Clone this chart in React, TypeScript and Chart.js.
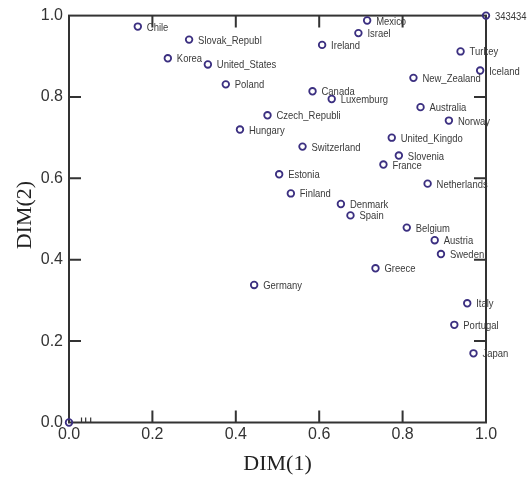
import React, { useEffect, useRef } from "react";
import { Chart, registerables } from "chart.js";

Chart.register(...registerables);

const names = ["Chile", "Slovak_Republ", "Korea", "United_States", "Poland", "Hungary", "Mexico", "Israel", "Ireland", "343434", "Turkey", "Iceland", "New_Zealand", "Canada", "Luxemburg", "Czech_Republi", "Australia", "Norway", "United_Kingdo", "Switzerland", "Slovenia", "France", "Estonia", "Netherlands", "Finland", "Denmark", "Spain", "Belgium", "Austria", "Sweden", "Greece", "Germany", "Italy", "Portugal", "Japan", ""];
const dim1 = [0.165, 0.288, 0.237, 0.333, 0.376, 0.410, 0.715, 0.694, 0.607, 1.0, 0.939, 0.986, 0.826, 0.584, 0.630, 0.476, 0.843, 0.911, 0.774, 0.560, 0.791, 0.754, 0.504, 0.860, 0.532, 0.652, 0.675, 0.810, 0.877, 0.892, 0.735, 0.444, 0.955, 0.924, 0.970, 0.0];
const dim2 = [0.973, 0.941, 0.895, 0.880, 0.831, 0.720, 0.988, 0.957, 0.928, 1.0, 0.912, 0.865, 0.847, 0.814, 0.795, 0.755, 0.775, 0.742, 0.700, 0.678, 0.656, 0.634, 0.610, 0.587, 0.563, 0.537, 0.509, 0.479, 0.448, 0.414, 0.379, 0.338, 0.293, 0.240, 0.170, 0.0];
const majorTicks = [0.2, 0.4, 0.6, 0.8];
const minorTicksX = [0.03, 0.04, 0.052];
const xTitle = "DIM(1)";
const yTitle = "DIM(2)";

export default function App() {
  const ref = useRef<HTMLCanvasElement>(null);
  useEffect(() => {
    document.body.style.margin = "0";
    const canvas = ref.current!;
    const framePlugin = {
      id: "frame",
      beforeDatasetsDraw(chart: any) {
        const { ctx, chartArea: a, scales } = chart;
        const xs = scales.x, ys = scales.y;
        ctx.save();
        ctx.strokeStyle = "#333";
        ctx.lineWidth = 2;
        ctx.strokeRect(a.left, a.top, a.right - a.left, a.bottom - a.top);
        const L = 12;
        ctx.beginPath();
        for (const t of majorTicks) {
          const px = xs.getPixelForValue(t);
          ctx.moveTo(px, a.bottom); ctx.lineTo(px, a.bottom - L);
          ctx.moveTo(px, a.top); ctx.lineTo(px, a.top + L);
          const py = ys.getPixelForValue(t);
          ctx.moveTo(a.left, py); ctx.lineTo(a.left + L, py);
          ctx.moveTo(a.right, py); ctx.lineTo(a.right - L, py);
        }
        ctx.stroke();
        ctx.lineWidth = 1.2;
        ctx.beginPath();
        for (const t of minorTicksX) {
          const px = xs.getPixelForValue(t);
          ctx.moveTo(px, a.bottom); ctx.lineTo(px, a.bottom - 5);
        }
        ctx.stroke();
        ctx.restore();
      },
      afterDatasetsDraw(chart: any) {
        const { ctx, chartArea: a } = chart;
        const meta = chart.getDatasetMeta(0);
        ctx.save();
        ctx.fillStyle = "#3a3a3a";
        ctx.font = '11px "Liberation Sans", Arial, sans-serif';
        ctx.textBaseline = "middle";
        ctx.textAlign = "left";
        meta.data.forEach((el: any, i: number) => {
          const label = names[i];
          if (!label) return;
          ctx.save();
          ctx.translate(el.x + 9, el.y + 1);
          ctx.scale(0.86, 1);
          ctx.fillText(label, 0, 0);
          ctx.restore();
        });
        ctx.fillStyle = "#222";
        ctx.font = '22px "Liberation Serif", "Times New Roman", serif';
        ctx.textAlign = "center";
        ctx.fillText(xTitle, (a.left + a.right) / 2, 464);
        ctx.translate(25, (a.top + a.bottom) / 2 - 4);
        ctx.rotate(-Math.PI / 2);
        ctx.fillText(yTitle, 0, 0);
        ctx.restore();
      },
    };
    const tickFont = { family: '"Liberation Sans", Arial, sans-serif', size: 16 };
    const chart = new Chart(canvas, {
      type: "scatter",
      data: {
        datasets: [
          {
            data: dim1.map((x, i) => ({ x, y: dim2[i] })),
            pointStyle: "circle",
            pointRadius: 3.3,
            pointBorderWidth: 1.8,
            borderColor: "#3b2f80",
            backgroundColor: "rgba(0,0,0,0)",
            clip: false as any,
          },
        ],
      },
      options: {
        responsive: false,
        animation: false,
        devicePixelRatio: 1,
        layout: { autoPadding: false, padding: { left: 0, top: 14, right: 44, bottom: 0 } },
        plugins: { legend: { display: false }, tooltip: { enabled: false } },
        scales: {
          x: {
            type: "linear",
            min: 0,
            max: 1,
            grid: { display: false, drawTicks: false },
            border: { display: false },
            ticks: { stepSize: 0.2, color: "#333", font: tickFont, padding: 2, callback: (v: any) => Number(v).toFixed(1) },
            afterFit: (s: any) => { s.height = 58.5; },
          },
          y: {
            type: "linear",
            min: 0,
            max: 1,
            grid: { display: false, drawTicks: false },
            border: { display: false },
            ticks: { stepSize: 0.2, color: "#333", font: tickFont, padding: 6, callback: (v: any) => Number(v).toFixed(1) },
            afterFit: (s: any) => { s.width = 69; },
          },
        },
      },
      plugins: [framePlugin],
    });
    return () => chart.destroy();
  }, []);
  return (
    <div style={{ width: 530, height: 481, background: "#fff" }}>
      <canvas ref={ref} width={530} height={481} style={{ display: "block" }} />
    </div>
  );
}
